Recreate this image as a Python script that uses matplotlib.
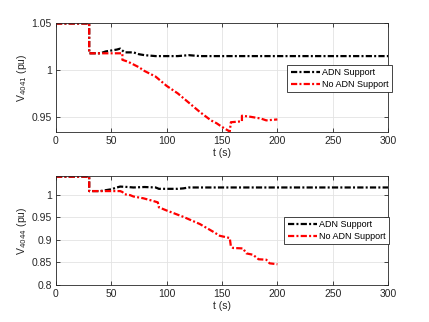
import matplotlib
matplotlib.use('Agg')
import matplotlib.pyplot as plt

# bus 4041
t1_adn = [0, 30, 30, 40, 45, 50, 55, 58, 62, 65, 70, 75, 80, 90, 100, 110, 120, 130, 300]
v1_adn = [1.05, 1.05, 1.018, 1.018, 1.020, 1.021, 1.022, 1.023, 1.019, 1.019, 1.019, 1.017, 1.016,
          1.015, 1.015, 1.015, 1.016, 1.015, 1.015]
t1_no = [0, 30, 30, 60, 60, 65, 70, 75, 80, 85, 90, 95, 100, 110, 120, 130, 140, 145, 150, 157,
         158, 168, 168, 175, 185, 190, 200]
v1_no = [1.05, 1.05, 1.018, 1.018, 1.011, 1.009, 1.006, 1.003, 0.999, 0.996, 0.993, 0.988, 0.983,
         0.975, 0.965, 0.955, 0.946, 0.943, 0.939, 0.934, 0.944, 0.945, 0.951, 0.950, 0.948,
         0.946, 0.947]

# bus 4044
t2_adn = [0, 30, 30, 40, 45, 50, 55, 58, 65, 70, 80, 90, 93, 110, 115, 120, 300]
v2_adn = [1.04, 1.04, 1.008, 1.008, 1.010, 1.012, 1.016, 1.018, 1.017, 1.016, 1.017, 1.016,
          1.013, 1.013, 1.014, 1.016, 1.016]
t2_no = [0, 30, 30, 58, 60, 62, 67, 70, 79, 88, 92, 93, 100, 115, 130, 142, 148, 157, 158, 160,
         169, 172, 178, 183, 190, 193, 200]
v2_no = [1.04, 1.04, 1.008, 1.008, 1.006, 1.001, 0.999, 0.996, 0.992, 0.986, 0.983, 0.972, 0.965,
         0.951, 0.935, 0.918, 0.909, 0.904, 0.886, 0.882, 0.881, 0.870, 0.867, 0.857, 0.856,
         0.848, 0.846]

plt.rcParams['font.family'] = ['Liberation Sans', 'DejaVu Sans']
plt.rcParams['font.size'] = 7.5
dark = '#262626'
ls = (0, (2.8, 1.0, 0.9, 1.0))

fig = plt.figure(figsize=(4.29, 3.22), dpi=100)
ax1 = fig.add_axes([0.1305, 0.590, 0.774, 0.3385])
ax2 = fig.add_axes([0.1305, 0.1149, 0.774, 0.3385])

panels = [
    (ax1, t1_adn, v1_adn, t1_no, v1_no, (0.9335, 1.0505), [0.95, 1, 1.05], ['0.95', '1', '1.05'],
     r'V$_{4041}$ (pu)', (1.012, 0.615)),
    (ax2, t2_adn, v2_adn, t2_no, v2_no, (0.8, 1.0414), [0.8, 0.85, 0.9, 0.95, 1],
     ['0.8', '0.85', '0.9', '0.95', '1'], r'V$_{4044}$ (pu)', (1.003, 0.624)),
]

for ax, ta, va, tn, vn, yl, yt, ytl, ylab, anchor in panels:
    ax.plot(ta, va, color='k', lw=1.6, linestyle=ls, label='ADN Support')
    ax.plot(tn, vn, color='r', lw=1.6, linestyle=ls, label='No ADN Support')
    ax.set_xlim(0, 300)
    ax.set_ylim(*yl)
    ax.set_xticks([0, 50, 100, 150, 200, 250, 300])
    ax.set_yticks(yt)
    ax.set_yticklabels(ytl)
    ax.grid(True, color='#e3e3e3', lw=0.6)
    ax.set_axisbelow(True)
    ax.tick_params(direction='in', length=3, width=0.6, colors=dark, top=True, right=True,
                   labelcolor=dark, pad=3)
    for sp in ax.spines.values():
        sp.set_color(dark)
        sp.set_linewidth(0.6)
    ax.set_xlabel('t (s)', color=dark, labelpad=1)
    ax.set_ylabel(ylab, color=dark, labelpad=2)
    leg = ax.legend(loc='upper right', bbox_to_anchor=anchor, fontsize=6.5, fancybox=False,
                    framealpha=1, edgecolor=dark, borderaxespad=0, handlelength=3.2,
                    handletextpad=0.3, borderpad=0.35, labelspacing=0.35)
    leg.get_frame().set_linewidth(0.6)

fig.savefig('out.png', dpi=100)
